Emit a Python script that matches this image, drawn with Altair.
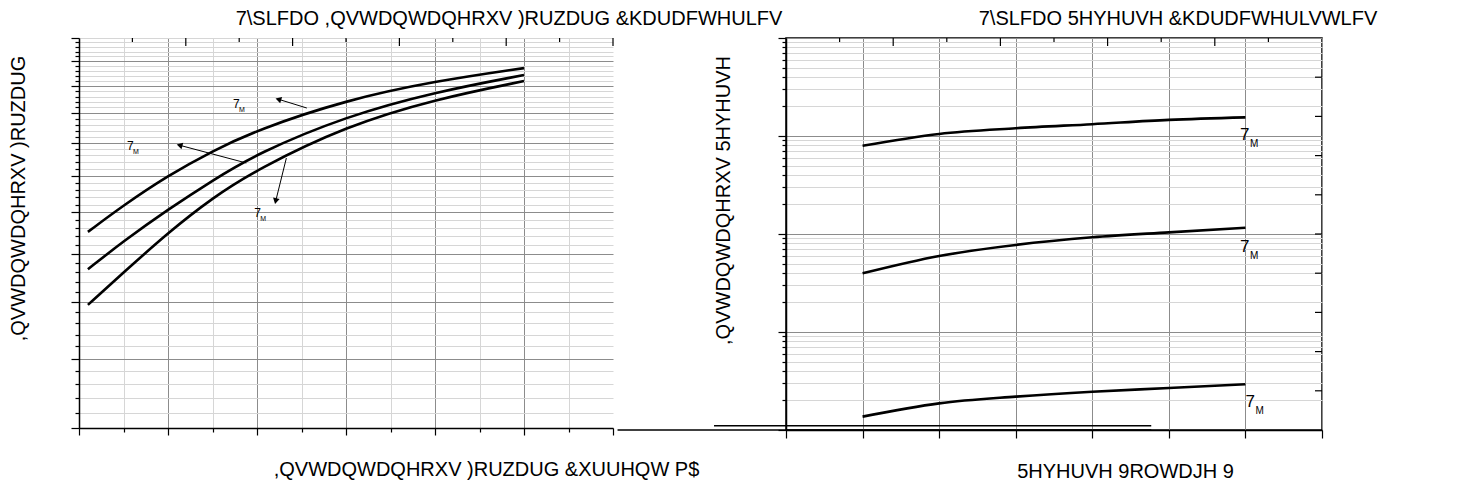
import altair as alt
import pandas as pd

# ---------------- left panel: forward characteristics ----------------
fwd_x = [0.1, 0.5, 1.0, 1.5, 2.0, 3.0, 4.0, 5.0]
fwd_curve_a = [7.51, 8.18, 9.00, 9.74, 10.42, 11.47, 12.19, 12.71]
fwd_curve_b = [6.66, 7.29, 8.07, 8.86, 9.66, 10.89, 11.77, 12.43]
fwd_curve_c = [5.94, 6.59, 7.49, 8.38, 9.18, 10.55, 11.50, 12.19]

fwd_label_x = [1.73, 0.54, 1.97]
fwd_label_y = [11.32, 9.90, 7.98]

fwd_arrow_from_x = [2.56, 1.88, 2.33]
fwd_arrow_from_y = [11.18, 9.37, 9.52]
fwd_arrow_to_x = [2.24, 1.13, 2.21]
fwd_arrow_to_y = [11.50, 9.92, 8.29]

# ---------------- right panel: reverse characteristics ----------------
rev_x = [1, 2, 3, 4, 5, 6]
rev_curve_a = [7.96, 10.5, 12.0, 13.2, 14.6, 15.5]
rev_curve_b = [0.397, 0.597, 0.773, 0.925, 1.04, 1.16]
rev_curve_c = [0.0137, 0.0187, 0.0219, 0.0246, 0.0268, 0.0293]

rev_label_x = [5.93, 5.93, 6.0]
rev_label_y = [10.2, 0.736, 0.0193]

# stray baseline segments seen under the right panel
stray_x = [-2.2, -0.94]
stray_x2 = [4.77, 4.77]
stray_y = [0.01, 0.01106]

# ---------------- texts ----------------
fwd_title = "7\\SLFDO ,QVWDQWDQHRXV )RUZDUG &KDUDFWHULFV"
fwd_xtitle = ",QVWDQWDQHRXV )RUZDUG &XUUHQW P$"
fwd_ytitle = ",QVWDQWDQHRXV )RUZDUG"
rev_title = "7\\SLFDO 5HYHUVH &KDUDFWHULVWLFV"
rev_xtitle = "5HYHUVH 9ROWDJH 9"
rev_ytitle = ",QVWDQWDQHRXV 5HYHUVH"
label_main = "7"
label_sub = "M"

# ---------------- ticks ----------------
fwd_x_ticks = [i * 0.5 for i in range(13)]
fwd_y_ticks = [round(4 + 0.2 * i, 1) for i in range(51)]
fwd_top_major = [1.2, 2.4, 3.6, 4.8, 6.0]
fwd_top_minor = [0.6, 1.8, 3.0, 4.2, 5.4]
rev_x_ticks = [i * 0.5 for i in range(15)]
rev_y_ticks = [round(m * 10 ** e, 4) for e in range(-2, 2) for m in range(1, 10)] + [100]
rev_top_major = [1.4, 2.8, 4.2, 5.6]
rev_top_minor = [0.7, 2.1, 3.5, 4.9, 6.3]
rev_right_ticks = [10 ** (-2 + 0.4 * k) for k in range(1, 10)]

# ---------------- styles ----------------
FONT = "Liberation Sans"
TXT = 20
DARK = "#8c8c8c"
LIGHT = "#d6d6d6"
INT_TEST = "abs(datum.value - round(datum.value)) < 0.001"
DEC_TEST = "abs(log(datum.value)/LN10 - round(log(datum.value)/LN10)) < 0.001"
FW, FH = 534, 390
RW, RH = 536, 392
arrow_angles = [287, 285, 193]


def axis(values, title, test, major, minor, pad, title_x=None, title_y=None,
         grid_test=None, hide_test=None):
    kw = dict(values=values, labels=False, title=title, titleFont=FONT,
              titleFontSize=TXT, titleFontWeight="normal", titleColor="black",
              titlePadding=pad, domainColor="black", domainWidth=1.5,
              tickColor="black", tickWidth=1.2,
              tickSize={"condition": {"test": test, "value": major}, "value": minor},
              grid=True, gridWidth=1,
              gridColor={"condition": {"test": grid_test or test, "value": DARK}, "value": LIGHT})
    if hide_test:
        kw["gridOpacity"] = {"condition": {"test": hide_test, "value": 0}, "value": 1}
    if title_x is not None:
        kw["titleX"] = title_x
    if title_y is not None:
        kw["titleY"] = title_y
    return alt.Axis(**kw)


# ================= left panel =================
fwd_df = pd.concat([
    pd.DataFrame({"x": fwd_x, "y": fwd_curve_a, "s": "a"}),
    pd.DataFrame({"x": fwd_x, "y": fwd_curve_b, "s": "b"}),
    pd.DataFrame({"x": fwd_x, "y": fwd_curve_c, "s": "c"}),
])
fxs = alt.Scale(domain=[0, 6], nice=False, zero=False)
fys = alt.Scale(type="log", domain=[4, 14], nice=False)

f_curves = alt.Chart(fwd_df).mark_line(color="black", strokeWidth=2.6, interpolate="basis").encode(
    x=alt.X("x:Q", scale=fxs,
            axis=axis(fwd_x_ticks, fwd_xtitle, INT_TEST, 7, 4, 24, title_x=407,
                      hide_test="datum.value > 5.9")),
    y=alt.Y("y:Q", scale=fys,
            axis=axis(fwd_y_ticks, fwd_ytitle, INT_TEST, 8, 4, 42, title_y=160,
                      grid_test=INT_TEST + " && datum.value < 13.5")),
    detail="s:N",
)

arrow_df = pd.DataFrame({"x": fwd_arrow_from_x, "y": fwd_arrow_from_y,
                         "x2": fwd_arrow_to_x, "y2": fwd_arrow_to_y, "a": arrow_angles})
f_arrows = alt.Chart(arrow_df).mark_rule(color="black", strokeWidth=1).encode(
    x=alt.X("x:Q", scale=fxs), y=alt.Y("y:Q", scale=fys), x2="x2:Q", y2="y2:Q")
f_heads = alt.Chart(arrow_df).mark_point(shape="triangle-up", filled=True, color="black",
                                         size=45, opacity=1).encode(
    x=alt.X("x2:Q", scale=fxs), y=alt.Y("y2:Q", scale=fys),
    angle=alt.Angle("a:Q", scale=None))

flab_df = pd.DataFrame({"x": fwd_label_x, "y": fwd_label_y, "t": label_main, "u": label_sub})
f_lab = alt.Chart(flab_df).mark_text(font=FONT, fontSize=12, align="left", baseline="middle",
                                     color="black").encode(
    x=alt.X("x:Q", scale=fxs), y=alt.Y("y:Q", scale=fys), text="t:N")
f_sub = alt.Chart(flab_df).mark_text(font=FONT, fontSize=7, align="left", baseline="middle",
                                     dx=6, dy=6, color="black").encode(
    x=alt.X("x:Q", scale=fxs), y=alt.Y("y:Q", scale=fys), text="u:N")

f_top_major = alt.Chart(pd.DataFrame({"x": fwd_top_major})).mark_rule(color="black", strokeWidth=1.2).encode(
    x=alt.X("x:Q", scale=fxs), y=alt.value(0), y2=alt.value(8))
f_top_minor = alt.Chart(pd.DataFrame({"x": fwd_top_minor})).mark_rule(color="black", strokeWidth=1.2).encode(
    x=alt.X("x:Q", scale=fxs), y=alt.value(0), y2=alt.value(4))

left = alt.layer(f_curves, f_arrows, f_heads, f_lab, f_sub, f_top_major, f_top_minor).properties(
    width=FW, height=FH,
    title=alt.TitleParams(fwd_title, font=FONT, fontSize=TXT, fontWeight="normal", color="black",
                          anchor="middle", dx=163, offset=8),
    view=alt.ViewBackground(stroke=None),
)

# ================= right panel =================
rev_df = pd.concat([
    pd.DataFrame({"x": rev_x, "y": rev_curve_a, "s": "a"}),
    pd.DataFrame({"x": rev_x, "y": rev_curve_b, "s": "b"}),
    pd.DataFrame({"x": rev_x, "y": rev_curve_c, "s": "c"}),
])
rxs = alt.Scale(domain=[0, 7], nice=False, zero=False)
rys = alt.Scale(type="log", domain=[0.01, 100], nice=False)

r_curves = alt.Chart(rev_df).mark_line(color="black", strokeWidth=2.6, interpolate="monotone").encode(
    x=alt.X("x:Q", scale=rxs,
            axis=axis(rev_x_ticks, rev_xtitle, INT_TEST, 8, 5, 23, title_x=339)),
    y=alt.Y("y:Q", scale=rys,
            axis=axis(rev_y_ticks, rev_ytitle, DEC_TEST, 8, 4, 44, title_y=162)),
    detail="s:N",
)

rlab_df = pd.DataFrame({"x": rev_label_x, "y": rev_label_y, "t": label_main, "u": label_sub})
r_lab = alt.Chart(rlab_df).mark_text(font=FONT, fontSize=17, align="left", baseline="middle",
                                     color="black").encode(
    x=alt.X("x:Q", scale=rxs), y=alt.Y("y:Q", scale=rys), text="t:N")
r_sub = alt.Chart(rlab_df).mark_text(font=FONT, fontSize=10, align="left", baseline="middle",
                                     dx=10, dy=9, color="black").encode(
    x=alt.X("x:Q", scale=rxs), y=alt.Y("y:Q", scale=rys), text="u:N")

r_top_major = alt.Chart(pd.DataFrame({"x": rev_top_major})).mark_rule(color="black", strokeWidth=1.2).encode(
    x=alt.X("x:Q", scale=rxs), y=alt.value(0), y2=alt.value(8))
r_top_minor = alt.Chart(pd.DataFrame({"x": rev_top_minor})).mark_rule(color="black", strokeWidth=1.2).encode(
    x=alt.X("x:Q", scale=rxs), y=alt.value(0), y2=alt.value(4))
r_right = alt.Chart(pd.DataFrame({"y": rev_right_ticks})).mark_rule(color="black", strokeWidth=1.2).encode(
    y=alt.Y("y:Q", scale=rys), x=alt.value(RW), x2=alt.value(RW - 7))

stray_df = pd.DataFrame({"x": stray_x, "x2": stray_x2, "y": stray_y})
r_stray = alt.Chart(stray_df).mark_rule(color="black", strokeWidth=1.5).encode(
    x=alt.X("x:Q", scale=rxs), x2="x2:Q", y=alt.Y("y:Q", scale=rys))

right = alt.layer(r_curves, r_lab, r_sub, r_top_major, r_top_minor, r_right, r_stray).properties(
    width=RW, height=RH,
    title=alt.TitleParams(rev_title, font=FONT, fontSize=TXT, fontWeight="normal", color="black",
                          anchor="middle", dx=124, offset=8),
    view=alt.ViewBackground(stroke="black", strokeWidth=1.5),
)

chart = alt.hconcat(left, right, spacing=173, bounds="flush").configure_view(stroke=None).properties(padding=0)

chart.save("out.html", embed_options={"renderer": "svg", "actions": False})
